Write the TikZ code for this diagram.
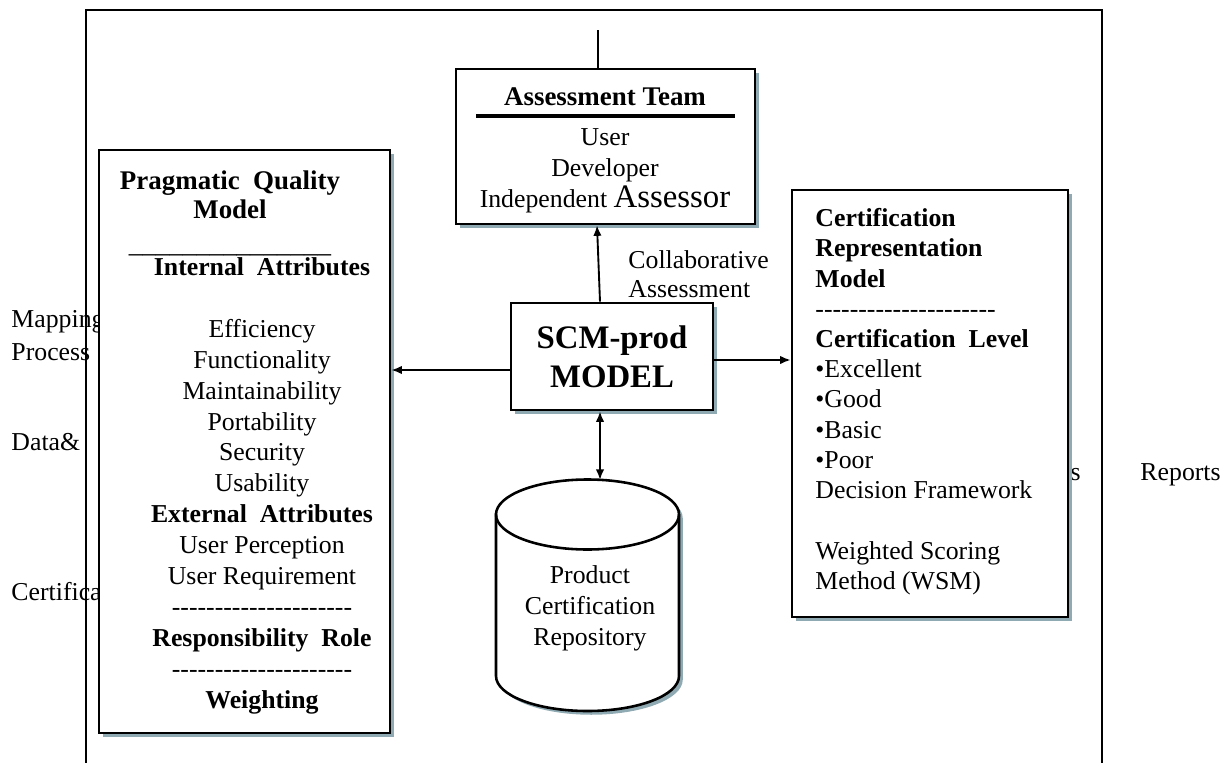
\documentclass[tikz,border=0pt]{standalone}
\usepackage{fontspec}
\setmainfont{Liberation Serif}
\usetikzlibrary{shadows,arrows.meta}
\definecolor{shadowc}{RGB}{143,170,178}
\tikzset{
  box/.style={draw, line width=1.1pt, fill=white, inner sep=0pt,
    drop shadow={shadow xshift=1.6pt, shadow yshift=-1.6pt, fill=shadowc, opacity=1}},
  txt/.style={inner sep=0pt, font=\fontsize{11}{13.2}\selectfont},
  arr/.style={-{Latex[length=4.5pt,width=3.6pt]}, line width=0.8pt},
  darr/.style={{Latex[length=4.5pt,width=3.6pt]}-{Latex[length=4.5pt,width=3.6pt]}, line width=0.8pt},
}
\newcommand\hyph{-{}-{}-{}-{}-{}-{}-{}-{}-{}-{}-{}-{}-{}-{}-{}-{}-{}-{}-{}-{}-}
\newcommand\repopath{(496,514.5) -- (496,676) arc[start angle=180, end angle=0, x radius=91.5, y radius=35]
  -- (679,514.5) arc[start angle=0, end angle=-180, x radius=91.5, y radius=35] -- cycle}
\begin{document}
\begin{tikzpicture}[x=0.015cm, y=-0.015cm]
\useasboundingbox (0,0) rectangle (1230,763);
% outer frame, open at the bottom
\draw[line width=1.1pt] (86,763) -- (86,10) -- (1102,10) -- (1102,763);

% texts behind the boxes
\node[txt, anchor=base west] (lmap) at (11,327) {Mapping};
\node[txt, anchor=base west] (lproc) at (11,360) {Process};
\node[txt, anchor=base west] (ldata) at (11,450) {Data\&};
\node[txt, anchor=base west] (lcert) at (11,600) {Certification};
\node[txt, anchor=base east] (rrep1) at (1081,480) {s};
\node[txt, anchor=base west] (rrep2) at (1140,480) {Reports};

% boxes
\node[box, minimum width=4.365cm, minimum height=8.745cm] (pqm) at (244.5,441.5) {};
\node[box, minimum width=4.485cm, minimum height=2.325cm] (team) at (605.5,146.5) {};
\node[box, minimum width=4.14cm, minimum height=6.405cm] (crm) at (930,403.5) {};
\node[box, minimum width=3.03cm, minimum height=1.605cm, align=center,
  font=\fontsize{14}{16.6}\selectfont\bfseries] (scm) at (612,356.5) {SCM-prod\\MODEL};

% repository cylinder
\fill[shadowc, xshift=1.6pt, yshift=-1.6pt] \repopath;
\draw[line width=1.1pt, fill=white] \repopath;
\draw[line width=1.1pt] (496,514.5) arc[start angle=180, end angle=0, x radius=91.5, y radius=35];
\coordinate (repotop) at (600,480);
\node[txt, align=center] (repotext) at (590,608) {Product\\Certification\\Repository};

% pragmatic quality model
\node[txt, anchor=north, align=center, font=\fontsize{11.5}{12.5}\selectfont\bfseries] (pqhead) at (230,170)
  {Pragmatic\ \ Quality\\Model\\[2pt]\mdseries\_\_\_\_\_\_\_\_\_\_\_\_\_\_\_};
\node[txt, anchor=north, align=center] (pqbody) at (262,257)
  {\textbf{Internal\ \ Attributes}\\[13.2pt]
   Efficiency\\Functionality\\Maintainability\\Portability\\Security\\Usability\\
   \textbf{External\ \ Attributes}\\User Perception\\User Requirement\\
   \hyph\\\textbf{Responsibility\ \ Role}\\\hyph\\\textbf{Weighting}};

% assessment team
\node[txt, font=\fontsize{11.5}{13.2}\selectfont\bfseries] (teamhead) at (605,97) {Assessment Team};
\draw[line width=1.5pt] (476,116) -- (735,116);
\node[txt, anchor=north, align=center] (teambody) at (605,128)
  {User\\Developer\\Independent {\fontsize{14}{13.2}\selectfont Assessor}};

% certification representation model
\node[txt, anchor=north west, align=left, font=\fontsize{11}{12.9}\selectfont] (crmbody) at (815,208)
  {\textbf{Certification}\\\textbf{Representation}\\\textbf{Model}\\\hyph\\
   \textbf{Certification\ \ Level}\\•Excellent\\•Good\\•Basic\\•Poor\\Decision Framework\\[12.9pt]
   Weighted Scoring\\Method (WSM)};

% collaborative label
\node[txt, anchor=north west, align=left, font=\fontsize{11}{12.6}\selectfont] (collab) at (628,250)
  {Collaborative\\Assessment};

% connectors
\coordinate (teamin) at (598,30);
\draw[line width=0.8pt] (team.north -| teamin) -- (teamin);
\draw[arr] (600,0 |- scm.north) -- (597,0 |- team.south);
\draw[arr] (scm.west |- 0,370) -- (pqm.east |- 0,370);
\draw[arr] (scm.east |- 0,360) -- (crm.west |- 0,360);
\draw[darr] (600,0 |- scm.south) -- (repotop);
\end{tikzpicture}
\end{document}
